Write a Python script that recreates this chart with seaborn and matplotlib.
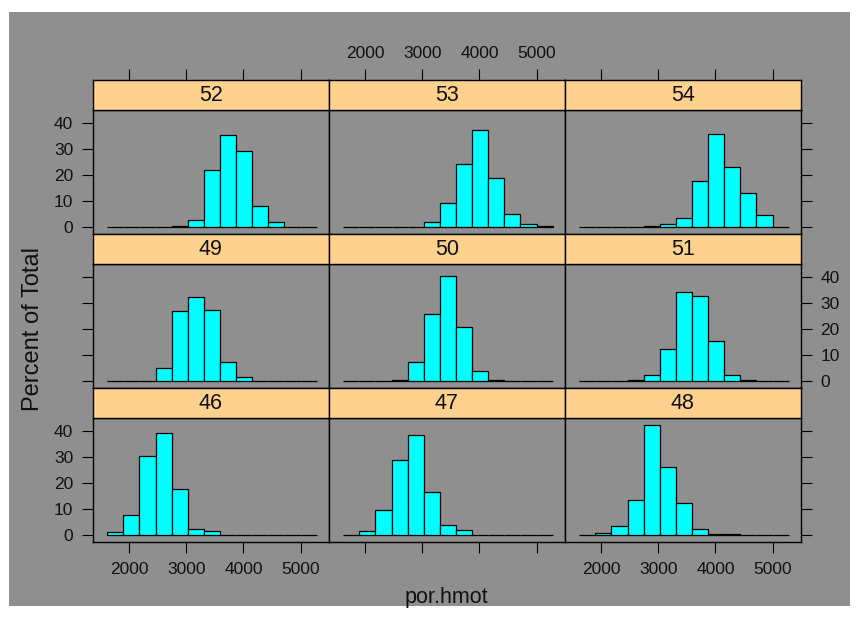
import numpy as np
import pandas as pd
import matplotlib
matplotlib.use("Agg")
import matplotlib.pyplot as plt
from matplotlib.patches import Rectangle
import seaborn as sns

# ---------------- data ----------------
bin_edges = [1620, 1902, 2183, 2465, 2746, 3028, 3309, 3591, 3872, 4154, 4435, 4717, 4998, 5280]
panel_labels = ["46", "47", "48", "49", "50", "51", "52", "53", "54"]

pct_46 = [1.3, 7.9, 30.4, 39.4, 17.9, 2.3, 1.4, 0.1, 0.05, 0.0, 0.0, 0.0, 0.05]
pct_47 = [0.1, 1.5, 9.5, 28.7, 38.6, 16.7, 3.7, 1.9, 0.1, 0.0, 0.0, 0.0, 0.0]
pct_48 = [0.05, 0.6, 3.5, 13.5, 42.2, 26.0, 12.2, 2.3, 0.5, 0.3, 0.1, 0.05, 0.0]
pct_49 = [0.0, 0.1, 0.2, 4.9, 26.8, 32.2, 27.2, 7.4, 1.4, 0.1, 0.0, 0.0, 0.0]
pct_50 = [0.0, 0.0, 0.1, 0.3, 7.4, 25.9, 40.3, 20.9, 4.0, 0.3, 0.2, 0.0, 0.0]
pct_51 = [0.0, 0.0, 0.0, 0.3, 2.3, 12.2, 34.2, 32.7, 15.5, 2.2, 0.3, 0.0, 0.0]
pct_52 = [0.0, 0.0, 0.2, 0.0, 0.3, 2.6, 21.9, 35.5, 29.2, 8.0, 2.1, 0.2, 0.0]
pct_53 = [0.0, 0.0, 0.0, 0.0, 0.2, 2.1, 9.4, 24.3, 37.5, 18.8, 5.2, 1.0, 0.5]
pct_54 = [0.0, 0.0, 0.0, 0.0, 0.5, 1.3, 3.4, 17.9, 35.9, 23.2, 13.2, 4.5, 0.0]

x_ticks = [2000, 3000, 4000, 5000]
y_ticks = [0, 10, 20, 30, 40]
x_label = "por.hmot"
y_label = "Percent of Total"

pct_by_panel = {"46": pct_46, "47": pct_47, "48": pct_48, "49": pct_49, "50": pct_50,
                "51": pct_51, "52": pct_52, "53": pct_53, "54": pct_54}

edges = np.array(bin_edges, dtype=float)
centers = (edges[:-1] + edges[1:]) / 2
rows = []
for lab in panel_labels:
    for c, p in zip(centers, pct_by_panel[lab]):
        rows.append({"panel": lab, "por.hmot": c, "pct": p})
df = pd.DataFrame(rows)

# ---------------- style ----------------
plt.rcParams['font.family'] = ['Liberation Sans', 'DejaVu Sans']
GRAY = "#8f8f8f"
STRIP = "#ffd18f"
BAR = "#00ffff"

W, H = 857, 627
fig = plt.figure(figsize=(W / 100, H / 100), dpi=100)
fig.patch.set_facecolor("white")
fig.add_artist(Rectangle((9 / W, 1 - 606 / H), (850 - 9) / W, (606 - 12) / H,
                         transform=fig.transFigure, facecolor=GRAY, edgecolor="none", zorder=-10))

col_left = [92.7, 328.7, 564.7]
col_w = 236.0
strip_tops = [80.3, 234.3, 388.3]
strip_h = 29.3
panel_h = 124.7
grid = [["52", "53", "54"], ["49", "50", "51"], ["46", "47", "48"]]

XLIM = (1365, 5491)
YLIM = (-2.8, 45.2)


def rect(x, ytop, w, h):
    return [x / W, 1 - (ytop + h) / H, w / W, h / H]


for r in range(3):
    for c in range(3):
        lab = grid[r][c]
        ax = fig.add_axes(rect(col_left[c], strip_tops[r] + strip_h, col_w, panel_h))
        sub = df[df["panel"] == lab]
        sns.histplot(data=sub, x="por.hmot", weights="pct", bins=bin_edges,
                     color=BAR, edgecolor="black", linewidth=0.9, alpha=1, ax=ax)
        ax.set_facecolor(GRAY)
        ax.set_xlim(*XLIM)
        ax.set_ylim(*YLIM)
        ax.set_xlabel("")
        ax.set_ylabel("")
        ax.set_xticks(x_ticks)
        ax.set_yticks(y_ticks)
        for s in ax.spines.values():
            s.set_color("black")
            s.set_linewidth(1.0)
        ax.tick_params(axis="both", direction="out", length=8, width=0.8,
                       color="black", labelsize=12.5, pad=6, labelcolor="#111111")
        ax.tick_params(axis="y", left=(c == 0), labelleft=(c == 0 and r != 1),
                       right=(c == 2), labelright=(c == 2 and r == 1))
        ax.tick_params(axis="x", bottom=(r == 2), labelbottom=(r == 2 and c != 1),
                       top=False, labeltop=False)

        sax = fig.add_axes(rect(col_left[c], strip_tops[r], col_w, strip_h))
        sax.set_facecolor(STRIP)
        sax.set_xlim(*XLIM)
        sax.set_ylim(0, 1)
        sax.set_yticks([])
        sax.set_xticks(x_ticks)
        for s in sax.spines.values():
            s.set_color("black")
            s.set_linewidth(1.0)
        sax.tick_params(axis="x", direction="out", length=8, width=0.8, color="black",
                        labelsize=12.5, pad=6, labelcolor="#111111",
                        bottom=False, labelbottom=False,
                        top=(r == 0), labeltop=(r == 0 and c == 1))
        sax.text(0.5, 0.47, lab, transform=sax.transAxes, ha="center", va="center",
                 fontsize=15.5, color="#111111")

fig.text(33 / W, 1 - 329 / H, y_label, rotation=90, ha="center", va="center",
         fontsize=17, color="#111111")
fig.text(446.7 / W, 1 - 598 / H, x_label, ha="center", va="center",
         fontsize=15.5, color="#111111")

fig.savefig("out.png", dpi=100, facecolor="white")
